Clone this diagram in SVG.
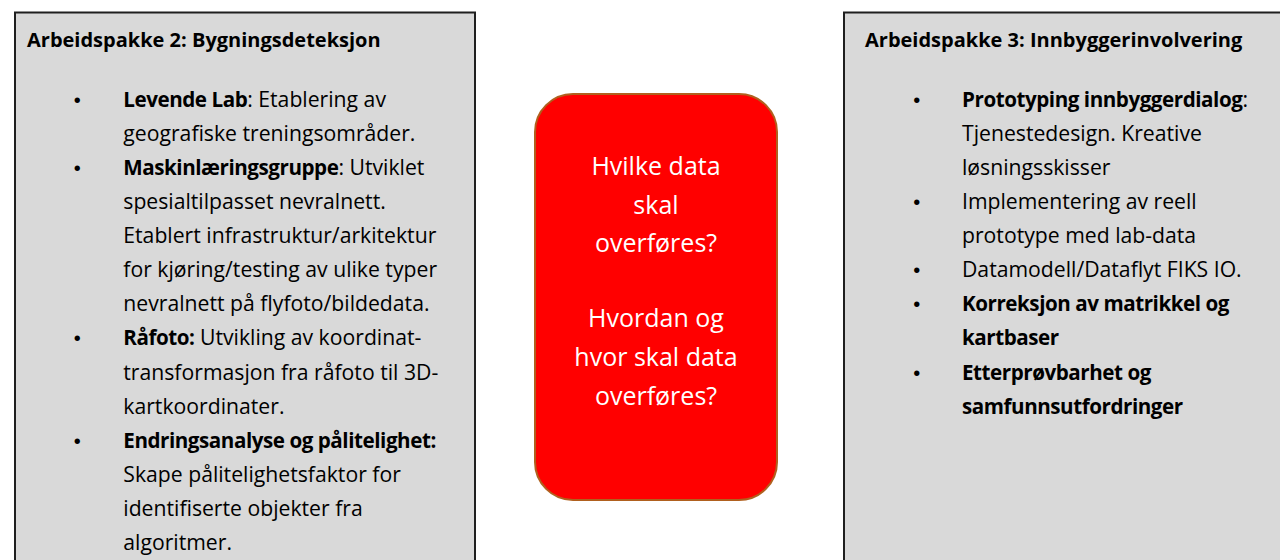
<svg xmlns="http://www.w3.org/2000/svg" width="1280" height="560" viewBox="0 0 1280 560">
<style>
.box{fill:#d9d9d9;stroke:#1f1f1f;stroke-width:2}
.t{font-family:"Open Sans","Liberation Sans",sans-serif;font-size:21.2px;fill:#000}
.h{font-family:"Open Sans","Liberation Sans",sans-serif;font-size:20px;font-weight:bold;fill:#000}
.b{font-weight:bold;font-size:20.6px;letter-spacing:-0.45px}
.bul{font-family:"Liberation Sans",sans-serif;font-size:20px;fill:#000;text-anchor:middle}
.c{font-family:"Open Sans","Liberation Sans",sans-serif;font-size:25px;fill:#fff;text-anchor:middle}
</style>
<rect width="1280" height="560" fill="#fff"/>
<g id="connectors"/>
<g id="wp2">
<rect class="box" x="15" y="12.5" width="460" height="580"/>
<text class="h" x="27" y="46.7">Arbeidspakke 2: Bygningsdeteksjon</text>
<text class="bul" x="77.3" y="106.7">•</text>
<text class="bul" x="77.3" y="174.9">•</text>
<text class="bul" x="77.3" y="345.4">•</text>
<text class="bul" x="77.3" y="447.7">•</text>
<text class="t" x="123.3" y="106.7"><tspan class="b">Levende Lab</tspan>: Etablering av</text>
<text class="t" x="123.3" y="140.8">geografiske treningsområder.</text>
<text class="t" x="123.3" y="174.9"><tspan class="b">Maskinlæringsgruppe</tspan>: Utviklet</text>
<text class="t" x="123.3" y="209">spesialtilpasset nevralnett.</text>
<text class="t" x="123.3" y="243.1">Etablert infrastruktur/arkitektur</text>
<text class="t" x="123.3" y="277.2">for kjøring/testing av ulike typer</text>
<text class="t" x="123.3" y="311.3">nevralnett på flyfoto/bildedata.</text>
<text class="t" x="123.3" y="345.4"><tspan class="b">Råfoto:</tspan> Utvikling av koordinat-</text>
<text class="t" x="123.3" y="379.5">transformasjon fra råfoto til 3D-</text>
<text class="t" x="123.3" y="413.6">kartkoordinater.</text>
<text class="t" x="123.3" y="447.7"><tspan class="b">Endringsanalyse og pålitelighet:</tspan></text>
<text class="t" x="123.3" y="481.8">Skape pålitelighetsfaktor for</text>
<text class="t" x="123.3" y="515.9">identifiserte objekter fra</text>
<text class="t" x="123.3" y="550">algoritmer.</text>
</g>
<g id="center">
<rect x="535" y="94" width="242" height="406" rx="38" ry="38" fill="#ff0000" stroke="#b0601e" stroke-width="2"/>
<text class="c" x="656" y="175">Hvilke data</text>
<text class="c" x="656" y="213.5">skal</text>
<text class="c" x="656" y="252">overføres?</text>
<text class="c" x="656" y="327">Hvordan og</text>
<text class="c" x="656" y="366">hvor skal data</text>
<text class="c" x="656" y="405">overføres?</text>
</g>
<g id="wp3">
<rect class="box" x="844" y="12.5" width="460" height="580"/>
<text class="h" x="865" y="46.7">Arbeidspakke 3: Innbyggerinvolvering</text>
<text class="bul" x="916.7" y="106.7">•</text>
<text class="bul" x="916.7" y="209">•</text>
<text class="bul" x="916.7" y="277.2">•</text>
<text class="bul" x="916.7" y="311.3">•</text>
<text class="bul" x="916.7" y="379.5">•</text>
<text class="t" x="962" y="106.7"><tspan class="b">Prototyping innbyggerdialog</tspan>:</text>
<text class="t" x="962" y="140.8">Tjenestedesign. Kreative</text>
<text class="t" x="962" y="174.9">løsningsskisser</text>
<text class="t" x="962" y="209">Implementering av reell</text>
<text class="t" x="962" y="243.1">prototype med lab-data</text>
<text class="t" x="962" y="277.2">Datamodell/Dataflyt FIKS IO.</text>
<text class="t" x="962" y="311.3"><tspan class="b">Korreksjon av matrikkel og</tspan></text>
<text class="t" x="962" y="345.4"><tspan class="b">kartbaser</tspan></text>
<text class="t" x="962" y="379.5"><tspan class="b">Etterprøvbarhet og</tspan></text>
<text class="t" x="962" y="413.6"><tspan class="b">samfunnsutfordringer</tspan></text>
</g>
</svg>
